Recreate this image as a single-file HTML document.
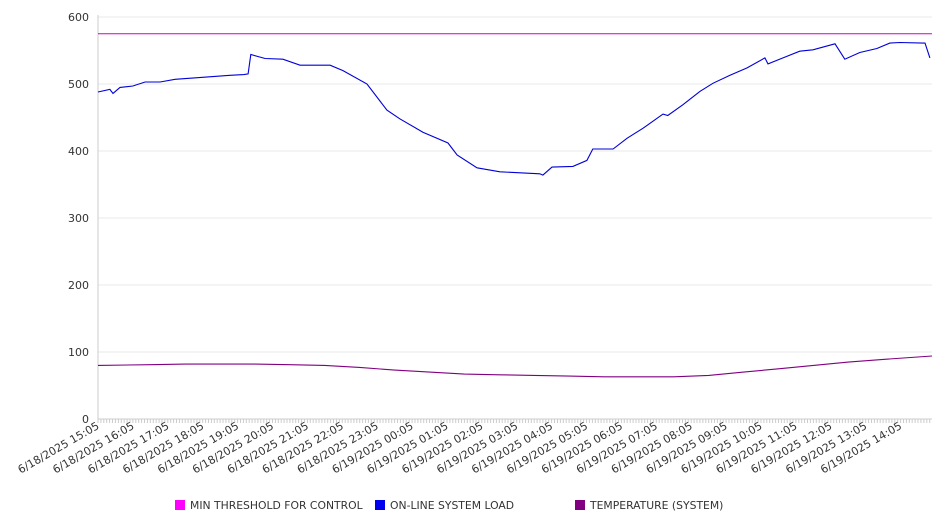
<!DOCTYPE html>
<html><head><meta charset="utf-8"><style>
body{margin:0;background:#fff;}
svg{display:block;font-family:"DejaVu Sans","Liberation Sans",sans-serif;}
</style></head><body>
<svg id="chart" width="946" height="526" xmlns="http://www.w3.org/2000/svg"></svg>
<script>
const yTicks=[0,100,200,300,400,500,600];
const xLabels=["6/18/2025 15:05","6/18/2025 16:05","6/18/2025 17:05","6/18/2025 18:05","6/18/2025 19:05","6/18/2025 20:05","6/18/2025 21:05","6/18/2025 22:05","6/18/2025 23:05","6/19/2025 00:05","6/19/2025 01:05","6/19/2025 02:05","6/19/2025 03:05","6/19/2025 04:05","6/19/2025 05:05","6/19/2025 06:05","6/19/2025 07:05","6/19/2025 08:05","6/19/2025 09:05","6/19/2025 10:05","6/19/2025 11:05","6/19/2025 12:05","6/19/2025 13:05","6/19/2025 14:05"];
const thresholdValue=575;
const loadHours=[0,.34,.43,.63,1.0,1.35,1.78,2.21,3.0,3.78,4.18,4.30,4.38,4.79,5.30,5.79,6.65,7.02,7.71,8.28,8.65,9.31,10.03,10.29,10.86,11.52,12.66,12.75,13.01,13.61,14.01,14.18,14.76,15.16,15.62,16.19,16.33,16.76,17.25,17.62,18.11,18.60,19.11,19.20,19.63,20.11,20.49,21.12,21.40,21.83,22.32,22.69,22.98,23.64,23.70,23.84];
const loadValues=[488,492,486,495,497,503,503,507,510,513,514,515,544,538,537,528,528,520,500,461,448,428,412,394,375,369,366,364,376,377,386,403,403,419,434,455,453,469,489,501,513,524,539,530,539,549,551,560,537,547,553,561,562,561,561,539];
const temperatureHours=[0,1.5,2.5,3.5,4.5,5.5,6.5,7.5,8.5,9.5,10.5,11.5,12.5,13.5,14.5,15.5,16.5,17.5,18.5,19.5,20.5,21.5,22.5,23.9];
const temperatureValues=[80,81,82,82,82,81,80,77,73,70,67,66,65,64,63,63,63,65,70,75,80,85,89,94];
const NS="http://www.w3.org/2000/svg";
const svg=document.getElementById('chart');
const X0=98,X1=932,Y0=419,Y600=17,HMAX=23.9;
const xs=h=>X0+(X1-X0)*h/HMAX;
const ys=v=>Y0-(Y0-Y600)*v/600;
function el(t,a,p){const e=document.createElementNS(NS,t);for(const k in a)e.setAttribute(k,a[k]);(p||svg).appendChild(e);return e;}
yTicks.forEach(v=>{
  if(v>0){const g=el('line',{x1:X0,x2:X1,y1:ys(v),y2:ys(v),stroke:'#e8e8e8','stroke-width':1});
  
  }
  const t=el('text',{x:89,y:ys(v)+4,'text-anchor':'end','font-size':11,fill:'#333'});
  t.textContent=v;
  
  
});
const ya=el('line',{x1:X0,x2:X0,y1:Y600-2,y2:Y0,stroke:'#ccc'});


const xa=el('line',{x1:X0,x2:X1,y1:Y0,y2:Y0,stroke:'#ccc'});


let d='';
for(let m=0;m<=HMAX*60;m+=5){const x=xs(m/60);d+=`M${x.toFixed(1)} ${Y0}v4`;}
const tk=el('path',{d:d,stroke:'#ccc','stroke-width':1});


xLabels.forEach((s,i)=>{
  const x=xs(i)+2,y=428;
  const t=el('text',{x:x,y:y,'text-anchor':'end','font-size':11,fill:'#333',transform:`rotate(-30 ${x} ${y})`});
  t.textContent=s;
  
  
});
const th=el('line',{x1:X0,x2:X1,y1:ys(thresholdValue),y2:ys(thresholdValue),stroke:'#d000d0','stroke-width':1});


const lp=el('polyline',{points:loadHours.map((h,i)=>xs(h).toFixed(1)+','+ys(loadValues[i]).toFixed(1)).join(' '),fill:'none',stroke:'#0000d8','stroke-width':1.1});


const tp=el('polyline',{points:temperatureHours.map((h,i)=>xs(h).toFixed(1)+','+ys(temperatureValues[i]).toFixed(1)).join(' '),fill:'none',stroke:'#800080','stroke-width':1.1});


[['#ff00ff','MIN THRESHOLD FOR CONTROL',175,'legend-threshold'],['#0000ee','ON-LINE SYSTEM LOAD',375,'legend-load'],['#800080','TEMPERATURE (SYSTEM)',575,'legend-temperature']].forEach(l=>{
  const g=el('g',{});
  
  
  el('rect',{x:l[2],y:500,width:10,height:10,fill:l[0]},g);
  const t=el('text',{x:l[2]+15,y:509,'font-size':10.8,fill:'#333'},g);
  t.textContent=l[1];
});
</script>
</body></html>
